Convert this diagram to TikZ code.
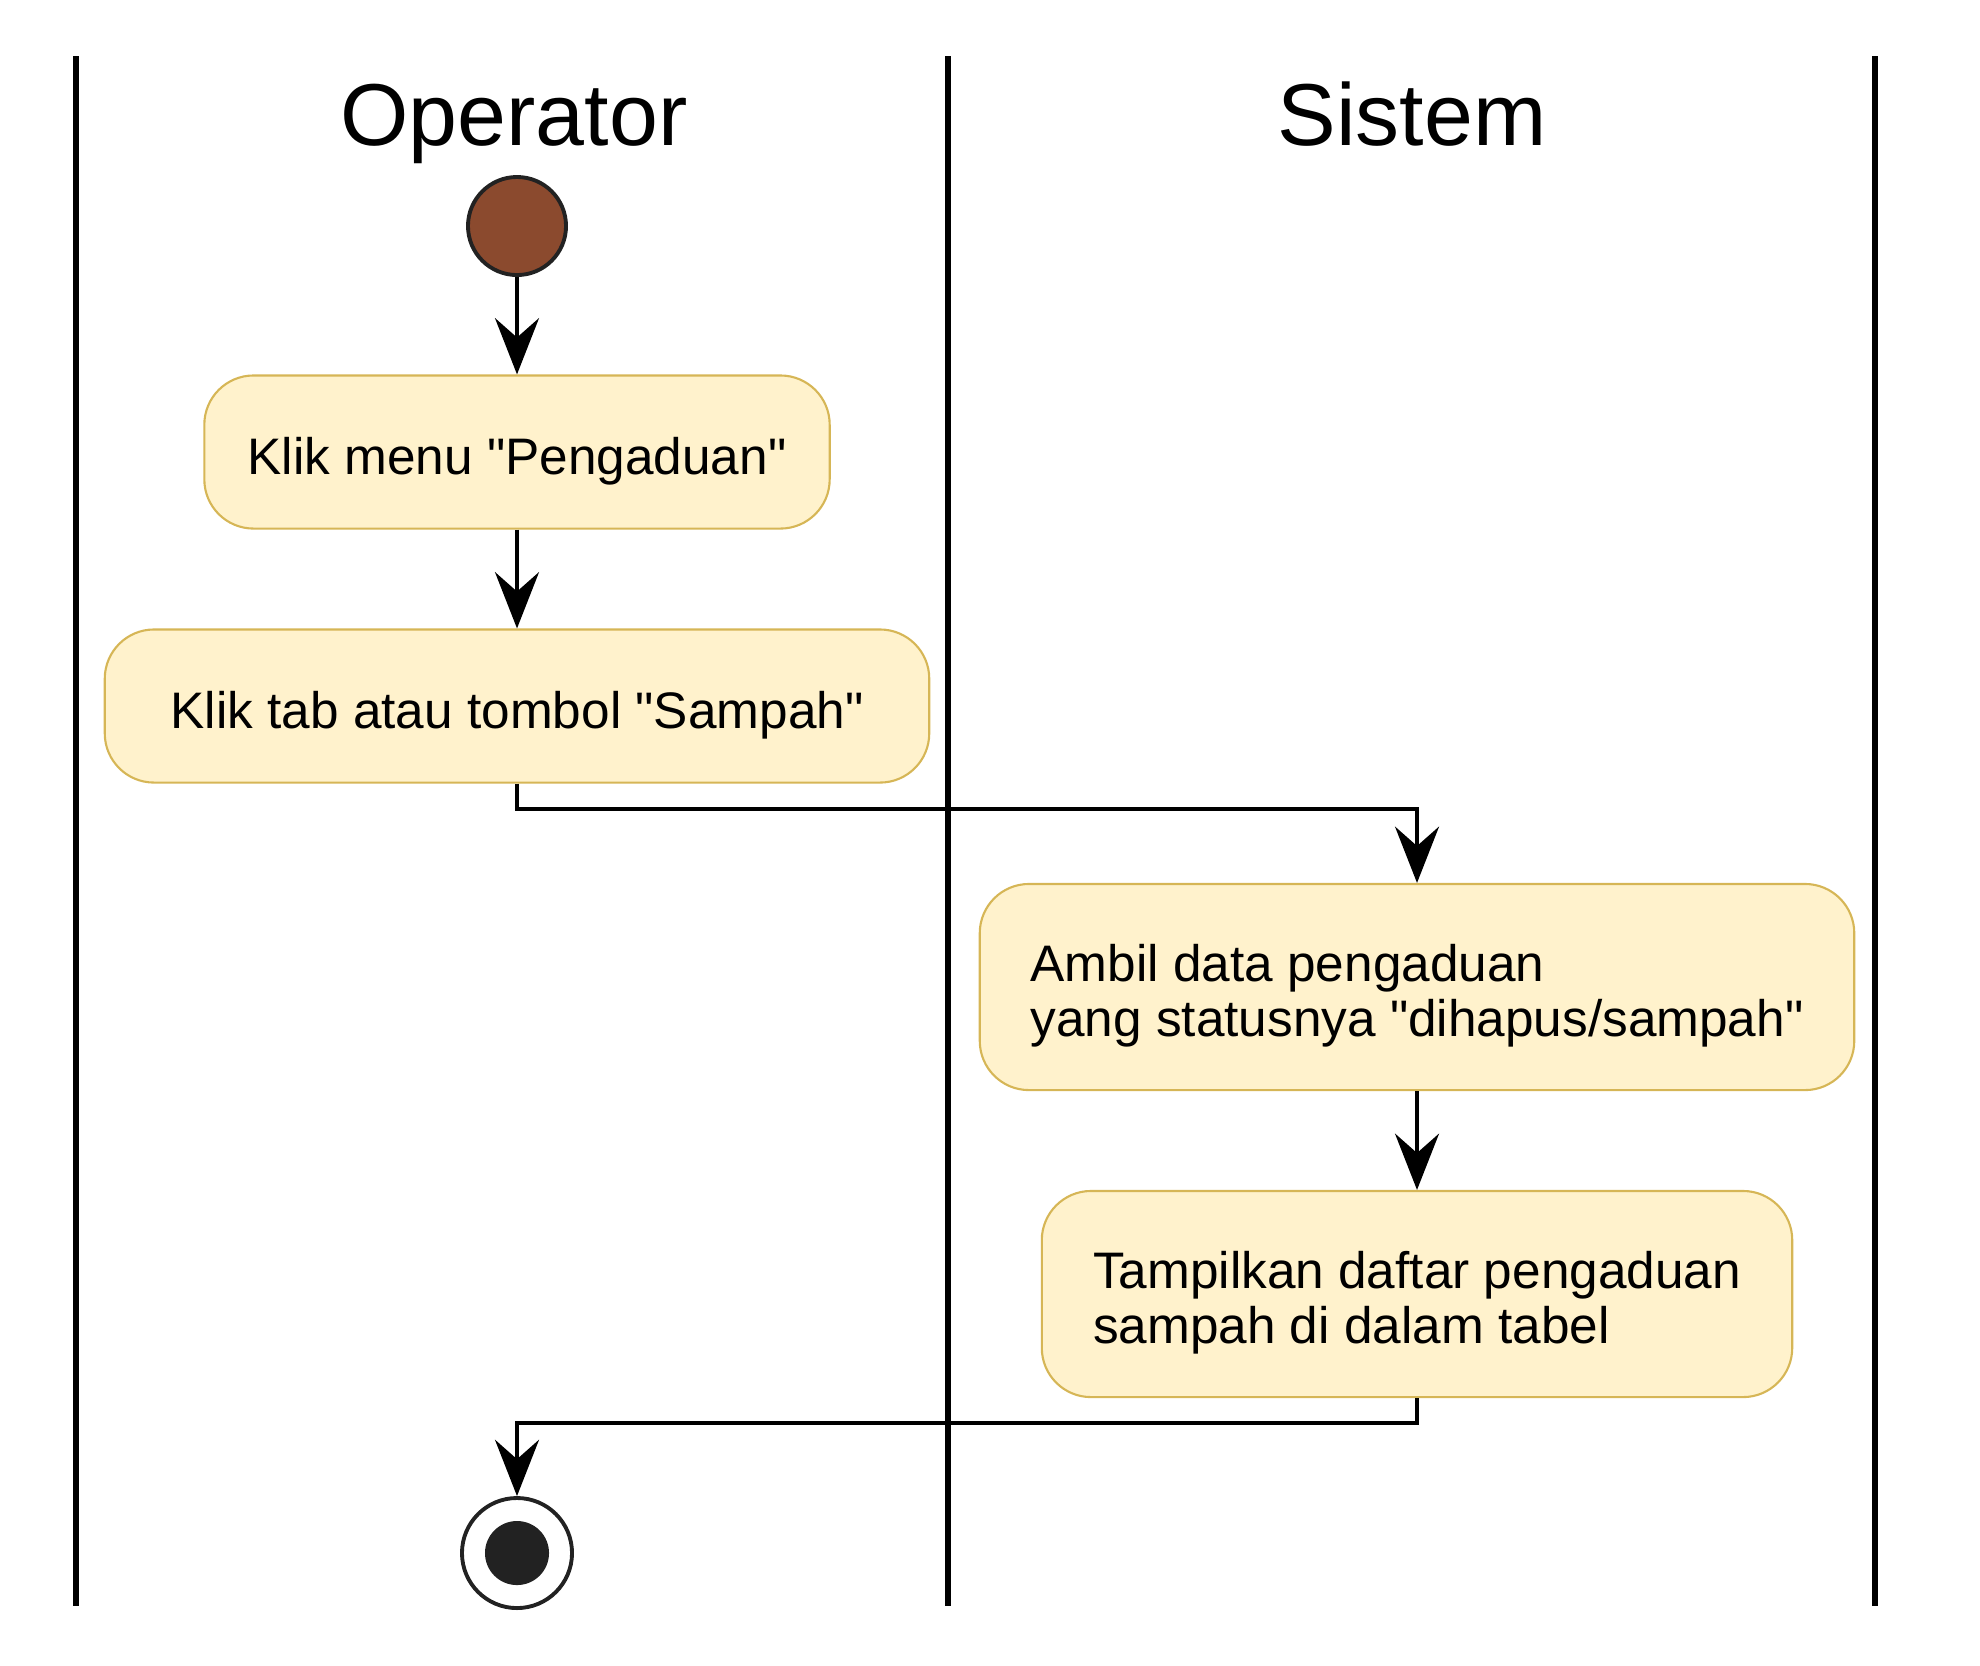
\documentclass[tikz,border=0pt]{standalone}
\usepackage{fontspec}
\setmainfont{Liberation Sans}[Ligatures=TeXOff]
\usetikzlibrary{arrows.meta,positioning}
\definecolor{fg}{RGB}{0,0,0}
\definecolor{ink}{RGB}{34,34,34}
\definecolor{initc}{RGB}{139,74,46}
\definecolor{actfill}{RGB}{255,242,204}
\definecolor{actline}{RGB}{214,182,86}
\tikzset{
  every picture/.style={fg, line width=1.2pt,
    >={Stealth[length=16pt,width=12.5pt,inset=5.5pt]}},
  every node/.style={font=\fontsize{14.6}{15.4}\selectfont},
  % Linientypen
  lane/.style={line width=1.8pt},
  flow/.style={line width=1.2pt, ->},
  % Aktivitäten (eine bzw. zwei Zeilen)
  act/.style={draw=actline, fill=actfill, line width=0.6pt, rounded corners=14pt,
    inner sep=0pt, align=left, text height=15.8pt, text depth=3.1pt},
  act2/.style={act, text height=31pt},
  % Start und Ende
  startpt/.style={circle, draw=ink, fill=initc, line width=1.1pt, inner sep=0pt, minimum size=0.98cm},
  stoppt/.style={circle, draw=ink, fill=white, line width=1.1pt, inner sep=0pt, minimum size=1.1cm,
    path picture={\fill[ink] (path picture bounding box.center) circle (0.32cm);}},
  % Bahnen
  title/.style={font=\fontsize{25}{30}\selectfont, anchor=base},
}
\begin{document}
\begin{tikzpicture}[x=0.01cm, y=-0.01cm]
  \useasboundingbox (0,0) rectangle (1980,1665);
  % Schwimmbahnen
  \foreach \x in {76,948,1875} \draw[lane] (\x,56) -- (\x,1606);
  \node[title] (opTitle) at (514,145) {Operator};
  \node[title] (sysTitle) at (1412,145) {Sistem};

  % Knoten
  \node[startpt] (init) at (517,226) {};
  \node[act, minimum width=6.25cm, minimum height=1.53cm] (klikMenu) at (517,452) {Klik menu "Pengaduan"};
  \node[act, minimum width=8.24cm, minimum height=1.53cm] (klikTab) at (517,706) {Klik tab atau tombol "Sampah"};
  \node[act2, minimum width=8.74cm, minimum height=2.06cm] (ambilData) at (1417,987)
    {Ambil data pengaduan\\yang statusnya "dihapus/sampah"};
  \node[act2, minimum width=7.5cm, minimum height=2.06cm] (tampil) at (1417,1294)
    {Tampilkan daftar pengaduan\\sampah di dalam tabel};
  \node[stoppt] (stop) at (517,1553) {};

  % Kontrollfluss
  \draw[flow] (init) -- (klikMenu);
  \draw[flow] (klikMenu) -- (klikTab);
  \draw[flow] (klikTab.south) -- ++(0,25) -| (ambilData.north);
  \draw[flow] (ambilData) -- (tampil);
  \draw[flow] (tampil.south) -- ++(0,25) -| (stop.north);
\end{tikzpicture}
\end{document}
